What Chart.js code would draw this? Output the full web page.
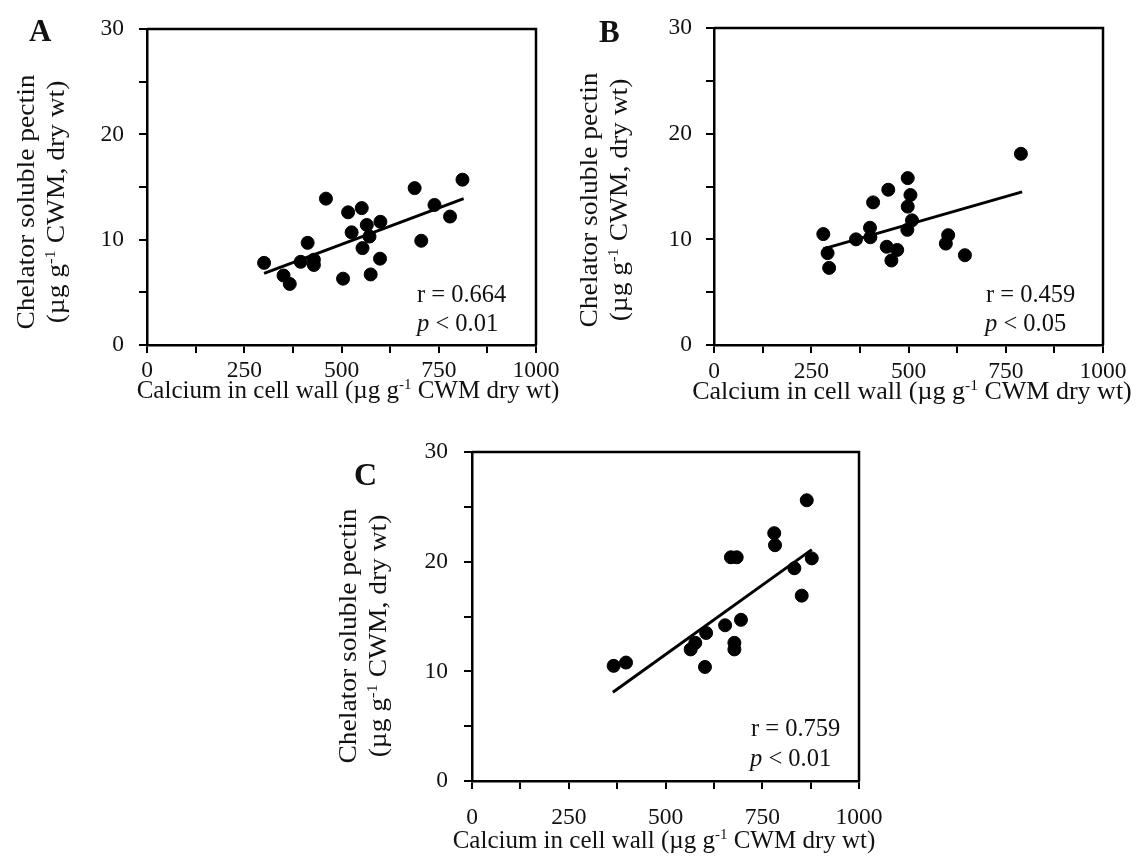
<!DOCTYPE html>
<html>
<head>
<meta charset="utf-8">
<script src="https://cdn.jsdelivr.net/npm/chart.js@4.4.1/dist/chart.umd.min.js"></script>
<style>
html, body { margin: 0; padding: 0; background: #fff; }
body { width: 1141px; height: 863px; position: relative; overflow: hidden;
       font-family: "Liberation Serif", "Times New Roman", serif; color: #111; }
canvas { position: absolute; }
.txt { position: absolute; white-space: nowrap; }
.txt sup { font-size: 0.6em; line-height: 0; vertical-align: 0.6em; }
</style>
</head>
<body>
<canvas id="chartA" width="570" height="420" style="left:0;top:0"></canvas>
<canvas id="chartB" width="571" height="420" style="left:570px;top:0"></canvas>
<canvas id="chartC" width="640" height="443" style="left:290px;top:420px"></canvas>

<script>
// tick labels shown on the axes
const xTickLabels = [0, 250, 500, 750, 1000];
const yTickLabels = [0, 10, 20, 30];

// panel A
const calciumA = [301, 351, 367, 395, 413, 429, 429, 460, 504, 517, 526, 552, 554, 565, 572, 575, 600, 599, 688, 705, 739, 779, 811];
const pectinA = [7.8, 6.6, 5.8, 7.9, 9.7, 8.1, 7.6, 13.9, 6.3, 12.6, 10.7, 13.0, 9.2, 11.4, 10.3, 6.7, 11.7, 8.2, 14.9, 9.9, 13.3, 12.2, 15.7];
const fitXA = [301, 814];
const fitYA = [6.8, 13.9];

// panel B
const calciumB = [281, 292, 296, 365, 401, 402, 409, 444, 448, 456, 471, 497, 498, 498, 505, 509, 596, 602, 645, 789];
const pectinB = [10.5, 8.7, 7.3, 10.0, 11.1, 10.2, 13.5, 9.3, 14.7, 8.0, 9.0, 10.9, 15.8, 13.1, 14.2, 11.8, 9.6, 10.4, 8.5, 18.1];
const fitXB = [281, 792];
const fitYB = [9.1, 14.5];

// panel C
const calciumC = [366, 398, 565, 577, 602, 605, 654, 669, 684, 678, 678, 695, 781, 783, 833, 852, 865, 878];
const pectinC = [10.5, 10.8, 12.0, 12.6, 10.4, 13.5, 14.2, 20.4, 20.4, 12.6, 12.0, 14.7, 22.6, 21.5, 19.4, 16.9, 25.6, 20.3];
const fitXC = [364, 878];
const fitYC = [8.1, 21.1];

const stats = {
    A: ["r = 0.664", "<i>p</i> &lt; 0.01"],
    B: ["r = 0.459", "<i>p</i> &lt; 0.05"],
    C: ["r = 0.759", "<i>p</i> &lt; 0.01"],
};

const xTitle = "Calcium in cell wall (µg g<sup>-1</sup> CWM dry wt)";
const yTitle1 = "Chelator soluble pectin";
const yTitle2 = "(µg g<sup>-1</sup> CWM, dry wt)";

const INK = "#111";
const FONT = "Liberation Serif";

// top and right sides of the box
const framePlugin = {
    id: "frame",
    afterDraw(chart) {
        const { ctx, chartArea: a } = chart;
        ctx.save();
        ctx.strokeStyle = "#000";
        ctx.lineWidth = 2.5;
        ctx.beginPath();
        ctx.moveTo(a.left, a.top);
        ctx.lineTo(a.right, a.top);
        ctx.lineTo(a.right, a.bottom);
        ctx.stroke();
        ctx.restore();
    },
};

function axisStyle() {
    return {
        grid: { display: true, drawOnChartArea: false, drawTicks: true, tickLength: 8, tickWidth: 2, tickColor: "#000", color: "#000", lineWidth: 2 },
        border: { display: true, color: "#000", width: 2.5 },
    };
}

function makePanel(id, xs, ys, fitX, fitY, g) {
    const points = xs.map((x, i) => ({ x, y: ys[i] }));
    const fit = fitX.map((x, i) => ({ x, y: fitY[i] }));
    const ctx = document.getElementById(id).getContext("2d");
    return new Chart(ctx, {
        type: "scatter",
        data: {
            datasets: [
                { data: fit, showLine: true, borderColor: "#000", borderWidth: 3, pointRadius: 0, clip: false },
                { data: points, backgroundColor: "#000", borderColor: "#000", pointRadius: 6.5, pointHoverRadius: 6.5, clip: false },
            ],
        },
        options: {
            responsive: false,
            animation: false,
            events: [],
            layout: { padding: { left: 0, top: g.top, right: g.right, bottom: 0 } },
            plugins: { legend: { display: false }, tooltip: { enabled: false } },
            scales: {
                x: {
                    type: "linear", min: 0, max: 1000,
                    ...axisStyle(),
                    ticks: {
                        stepSize: 125, autoSkip: false, maxRotation: 0, padding: g.xPad,
                        color: INK, font: { family: FONT, size: 23.5 },
                        callback: v => (xTickLabels.includes(v) ? String(v) : ""),
                    },
                    afterFit: s => { s.height = g.xHeight; },
                },
                y: {
                    type: "linear", min: 0, max: 30,
                    ...axisStyle(),
                    ticks: {
                        stepSize: 5, autoSkip: false, padding: g.yPad,
                        color: INK, font: { family: FONT, size: 23.5 },
                        callback: v => (yTickLabels.includes(v) ? String(v) : ""),
                    },
                    afterFit: s => { s.width = g.yWidth; },
                },
            },
        },
        plugins: [framePlugin],
    });
}

// text helpers (Liberation Serif ascent 0.891 em, line box = font size)
function addText(html, x, baseline, size, opts = {}) {
    const d = document.createElement("div");
    d.className = "txt";
    d.innerHTML = html;
    d.style.fontSize = size + "px";
    d.style.lineHeight = size + "px";
    d.style.top = (baseline - 0.8375 * size) + "px";
    d.style.left = x + "px";
    if (opts.bold) d.style.fontWeight = "bold";
    if (opts.center) d.style.transform = "translateX(-50%)";
    document.body.appendChild(d);
}

function addVText(html, baselineX, cy, size, stretch) {
    const d = document.createElement("div");
    d.className = "txt";
    d.innerHTML = html;
    d.style.fontSize = size + "px";
    d.style.lineHeight = size + "px";
    d.style.left = (baselineX - 0.3375 * size) + "px";
    d.style.top = cy + "px";
    d.style.transform = `translate(-50%, -50%) rotate(-90deg) scaleX(${stretch})`;
    document.body.appendChild(d);
}

makePanel("chartA", calciumA, pectinA, fitXA, fitYA, { top: 17, right: 34, xHeight: 75, yWidth: 147, xPad: 4, yPad: 15 });
makePanel("chartB", calciumB, pectinB, fitXB, fitYB, { top: 17, right: 38, xHeight: 75, yWidth: 144, xPad: 5, yPad: 14 });
makePanel("chartC", calciumC, pectinC, fitXC, fitYC, { top: 32, right: 71, xHeight: 82, yWidth: 182, xPad: 15, yPad: 16 });

// panel letters
addText("A", 29, 41, 31, { bold: true });
addText("B", 599, 42, 31, { bold: true });
addText("C", 354, 485, 32, { bold: true });

// x axis titles
addText(xTitle, 348, 398, 25, { center: true });
addText(xTitle, 912, 400, 26, { center: true });
addText(xTitle, 664, 848, 25, { center: true });

// y axis titles
addVText(yTitle1, 33, 202, 25, 1.1);
addVText(yTitle2, 63, 202, 25, 1.1);
addVText(yTitle1, 596, 200, 25, 1.1);
addVText(yTitle2, 626, 200, 25, 1.1);
addVText(yTitle1, 355, 636, 25, 1.1);
addVText(yTitle2, 385, 636, 25, 1.1);

// correlation notes
addText(stats.A[0], 417, 303, 24.5);
addText(stats.A[1], 417, 332, 24.5);
addText(stats.B[0], 986, 303, 24.5);
addText(stats.B[1], 985, 332, 24.5);
addText(stats.C[0], 751, 737, 24.5);
addText(stats.C[1], 750, 767, 24.5);
</script>
</body>
</html>
